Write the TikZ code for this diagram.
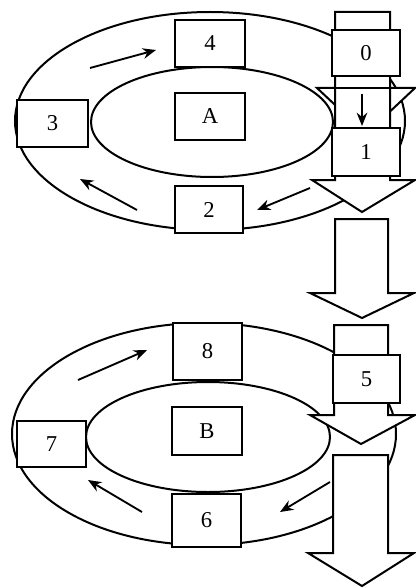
\documentclass[tikz,border=0pt]{standalone}
\usepackage{fontspec}
\setmainfont{Liberation Serif}
\usetikzlibrary{arrows.meta}
\begin{document}
\begin{tikzpicture}[x=0.75pt,y=-0.75pt,
  lw/.style={line width=1.5pt},
  blockarrow/.style={lw,draw=black,fill=white,line join=miter},
  bx/.style 2 args={draw,lw,fill=white,inner sep=0pt,
     minimum width=#1*0.75pt,minimum height=#2*0.75pt,
     font=\fontsize{17}{19}\selectfont},
  arr/.style={line width=1.4pt,-{Stealth[length=10pt,width=8pt]}}
]
\useasboundingbox (0,0) rectangle (416,588);
% ---------- top ring ----------
\draw[lw] (210,121) ellipse [x radius=146.25pt, y radius=81.75pt];
\draw[lw] (212,122) ellipse [x radius=90.75pt, y radius=41.25pt];
% chevron behind column
\draw[blockarrow] (317,88) -- (415,88) -- (366,134) -- cycle;
% top big arrow
\draw[blockarrow] (335,12) -- (390,12) -- (390,180) -- (415,180) -- (362,212)
   -- (312,180) -- (335,180) -- cycle;
\draw[lw] (335,88) -- (390,88);
% boxes
\node[bx={70}{47}] (n4) at (210,43.5) {4};
\node[bx={70}{47}] (nA) at (210,116.5) {A};
\node[bx={71}{47}] (n3) at (52.5,123.5) {3};
\node[bx={68}{47}] (n2) at (209,209.5) {2};
\node[bx={68}{46}] (n0) at (366,53) {0};
\node[bx={68}{48}] (n1) at (366,152) {1};
% arrows in top ring
\coordinate (t1s) at (90,68);   \coordinate (t1e) at (156,50);
\coordinate (t2s) at (137,210); \coordinate (t2e) at (80,179);
\coordinate (t3s) at (310,188); \coordinate (t3e) at (257,210);
\coordinate (t4s) at (362,94);  \coordinate (t4e) at (362,126);
\draw[arr] (t1s) -- (t1e);
\draw[arr] (t2s) -- (t2e);
\draw[arr] (t3s) -- (t3e);
\draw[arr] (t4s) -- (t4e);
% ---------- middle arrow ----------
\draw[blockarrow] (335,219) -- (388,219) -- (388,293) -- (414,293) -- (362,318)
   -- (310,293) -- (335,293) -- cycle;
% ---------- bottom ring ----------
\draw[lw] (204,434) ellipse [x radius=144pt, y radius=83.25pt];
\draw[lw] (208,437) ellipse [x radius=91.5pt, y radius=41.25pt];
\draw[blockarrow] (334,325) -- (388,325) -- (388,415) -- (415,415) -- (361,444)
   -- (310,415) -- (334,415) -- cycle;
\draw[blockarrow] (333,455) -- (388,455) -- (388,553) -- (414,553) -- (362,586)
   -- (308,553) -- (333,553) -- cycle;
\node[bx={69}{57}] (n8) at (207.5,351.5) {8};
\node[bx={70}{48}] (nB) at (207,431) {B};
\node[bx={69}{46}] (n7) at (51.5,444) {7};
\node[bx={69}{53}] (n6) at (206.5,520.5) {6};
\node[bx={67}{48}] (n5) at (366.5,379) {5};
\coordinate (b1s) at (78,380);  \coordinate (b1e) at (147,350);
\coordinate (b2s) at (142,512); \coordinate (b2e) at (88,480);
\coordinate (b3s) at (330,482); \coordinate (b3e) at (280,512);
\draw[arr] (b1s) -- (b1e);
\draw[arr] (b2s) -- (b2e);
\draw[arr] (b3s) -- (b3e);
\end{tikzpicture}
\end{document}
